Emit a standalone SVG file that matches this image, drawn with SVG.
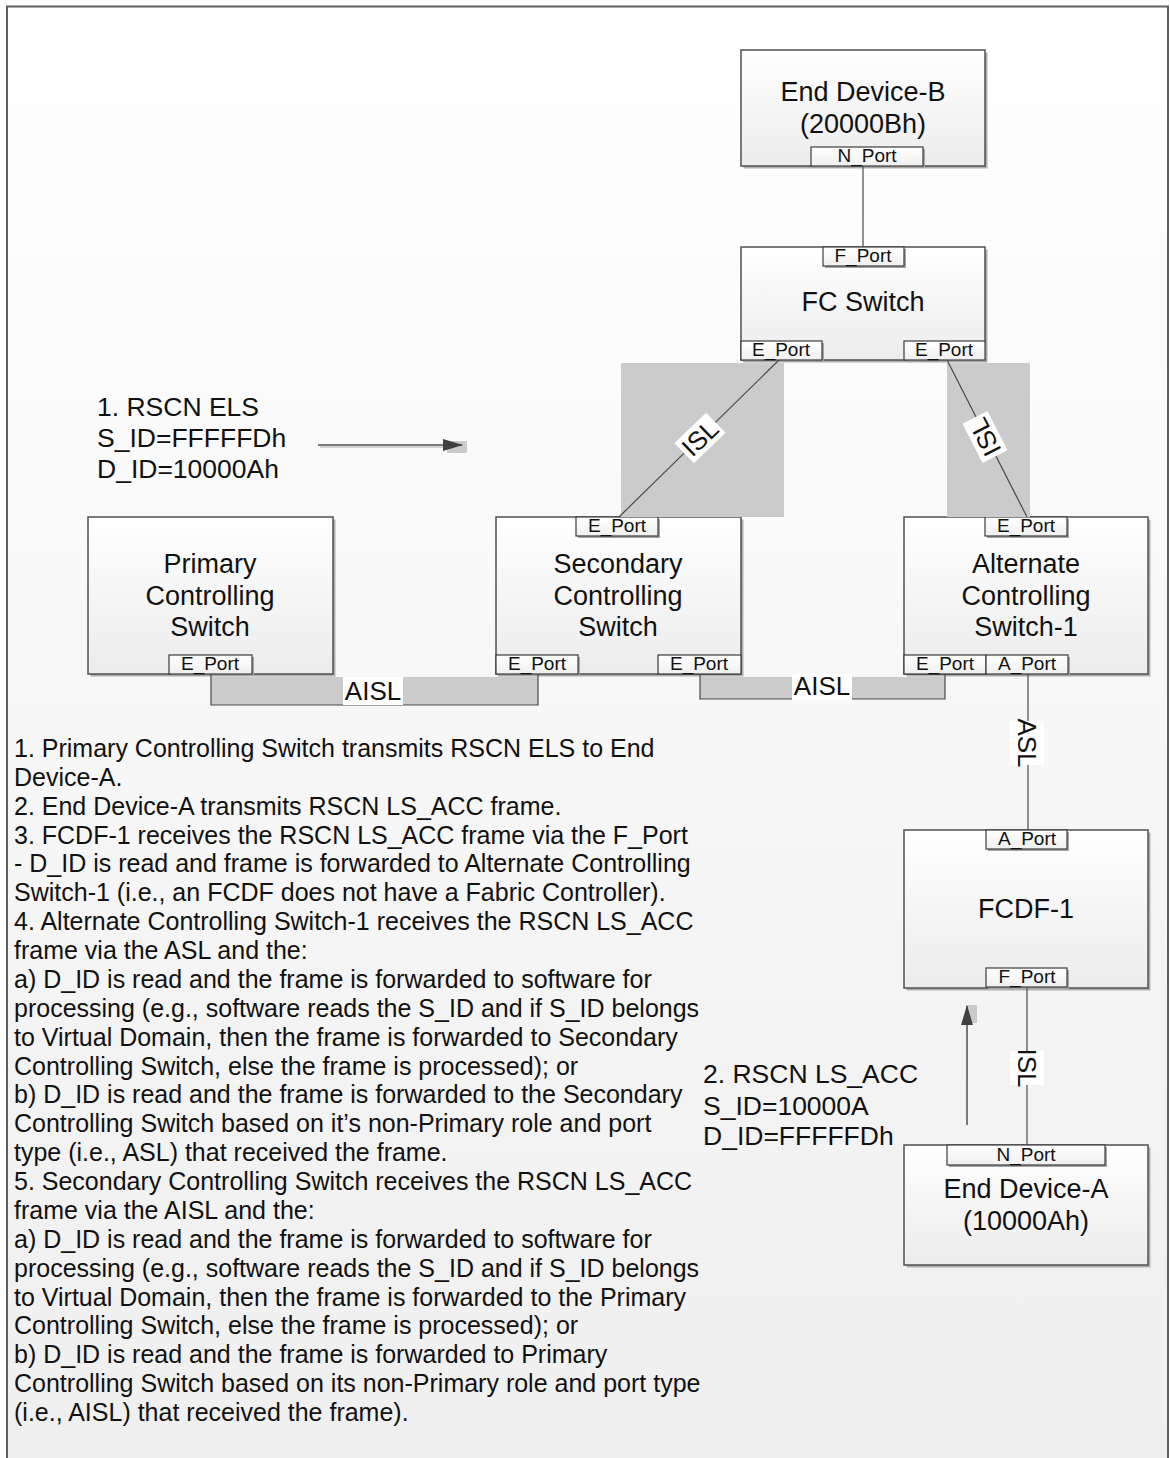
<svg xmlns="http://www.w3.org/2000/svg" width="1170" height="1458" viewBox="0 0 1170 1458">
  <defs>
    <linearGradient id="bgGrad" x1="0" y1="0" x2="0" y2="1">
      <stop offset="0" stop-color="#ffffff"/>
      <stop offset="1" stop-color="#efefef"/>
    </linearGradient>
    <linearGradient id="boxGrad" x1="0" y1="0" x2="0" y2="1">
      <stop offset="0" stop-color="#ffffff"/>
      <stop offset="1" stop-color="#ececec"/>
    </linearGradient>
    <linearGradient id="portGrad" x1="0" y1="0" x2="0" y2="1">
      <stop offset="0" stop-color="#ffffff"/>
      <stop offset="1" stop-color="#efefef"/>
    </linearGradient>
    <marker id="arrowHead" viewBox="0 0 20 12" refX="19" refY="6" markerWidth="20" markerHeight="12" markerUnits="userSpaceOnUse" orient="auto">
      <path d="M0,0 L20,6 L0,12 Z" fill="#404040"/>
    </marker>
  </defs>
  <style>
    .frame { fill: url(#bgGrad); stroke: #5f5f5f; stroke-width: 2; }
    .body { fill: url(#boxGrad); stroke: #505050; stroke-width: 1.5; }
    .shadow { fill: #b0b0b0; }
    .port { fill: url(#portGrad); stroke: #3c3c3c; stroke-width: 1.2; }
    .pshadow { fill: #a4a4a4; }
    .label { font-family: "Liberation Sans", Arial, sans-serif; font-size: 27px; fill: #111; text-anchor: middle; }
    .plabel { font-family: "Liberation Sans", Arial, sans-serif; font-size: 19px; fill: #111; text-anchor: middle; }
    .note { font-family: "Liberation Sans", Arial, sans-serif; font-size: 26.5px; fill: #111; }
    .body-text { font-family: "Liberation Sans", Arial, sans-serif; font-size: 25px; fill: #111; }
    .band { fill: #cbcbcb; }
    .link { fill: none; stroke: #4a4a4a; stroke-width: 1.2; }
    .tag { fill: #ffffff; }
    .ltext { font-family: "Liberation Sans", Arial, sans-serif; font-size: 26px; fill: #111; text-anchor: middle; }
    .arrow { fill: none; stroke: #505050; stroke-width: 1.5; }
    .arrowshade { fill: none; stroke: #c8c8c8; stroke-width: 1.5; }
  </style>

  <!-- page frame -->
  <rect class="frame" x="7" y="6.5" width="1161" height="1470"/>

  <!-- End Device-B -->
  <g id="end-device-b">
    <rect class="shadow" x="743.5" y="52.5" width="244" height="116"/>
    <rect class="body" x="741" y="50" width="244" height="116"/>
    <text class="label" x="863" y="101">End Device-B</text>
    <text class="label" x="863" y="133">(20000Bh)</text>
    <rect class="pshadow" x="813" y="149" width="112" height="19"/>
    <rect class="port" x="811" y="147" width="112" height="19"/>
    <text class="plabel" x="867" y="161.5">N_Port</text>
  </g>

  <!-- FC Switch -->
  <g id="fc-switch">
    <rect class="shadow" x="743.5" y="249.5" width="244" height="113"/>
    <rect class="body" x="741" y="247" width="244" height="113"/>
    <rect class="pshadow" x="825" y="249" width="81" height="19"/>
    <rect class="port" x="823" y="247" width="81" height="19"/>
    <text class="plabel" x="863" y="261.5">F_Port</text>
    <text class="label" x="863" y="311">FC Switch</text>
    <rect class="pshadow" x="743" y="343" width="81" height="19"/>
    <rect class="port" x="741" y="341" width="81" height="19"/>
    <text class="plabel" x="781" y="355.5">E_Port</text>
    <rect class="pshadow" x="906" y="343" width="81" height="19"/>
    <rect class="port" x="904" y="341" width="81" height="19"/>
    <text class="plabel" x="944" y="355.5">E_Port</text>
  </g>

  <!-- Primary Controlling Switch -->
  <g id="primary-controlling-switch">
    <rect class="shadow" x="90.5" y="519.5" width="245" height="157"/>
    <rect class="body" x="88" y="517" width="245" height="157"/>
    <text class="label" x="210" y="573">Primary</text>
    <text class="label" x="210" y="605">Controlling</text>
    <text class="label" x="210" y="636">Switch</text>
    <rect class="pshadow" x="171" y="657" width="83" height="19"/>
    <rect class="port" x="169" y="655" width="83" height="19"/>
    <text class="plabel" x="210" y="669.5">E_Port</text>
  </g>

  <!-- Secondary Controlling Switch -->
  <g id="secondary-controlling-switch">
    <rect class="shadow" x="498.5" y="519.5" width="245" height="157"/>
    <rect class="body" x="496" y="517" width="245" height="157"/>
    <text class="label" x="618" y="573">Secondary</text>
    <text class="label" x="618" y="605">Controlling</text>
    <text class="label" x="618" y="636">Switch</text>
    <rect class="pshadow" x="578" y="519" width="82" height="19"/>
    <rect class="port" x="576" y="517" width="82" height="19"/>
    <text class="plabel" x="617" y="531.5">E_Port</text>
    <rect class="pshadow" x="498" y="657" width="82" height="19"/>
    <rect class="port" x="496" y="655" width="82" height="19"/>
    <text class="plabel" x="537" y="669.5">E_Port</text>
    <rect class="port" x="658" y="655" width="83" height="19"/>
    <text class="plabel" x="699" y="669.5">E_Port</text>
  </g>

  <!-- Alternate Controlling Switch-1 -->
  <g id="alternate-controlling-switch-1">
    <rect class="shadow" x="906.5" y="519.5" width="244" height="157"/>
    <rect class="body" x="904" y="517" width="244" height="157"/>
    <text class="label" x="1026" y="573">Alternate</text>
    <text class="label" x="1026" y="605">Controlling</text>
    <text class="label" x="1026" y="636">Switch-1</text>
    <rect class="pshadow" x="987" y="519" width="82" height="19"/>
    <rect class="port" x="985" y="517" width="82" height="19"/>
    <text class="plabel" x="1026" y="531.5">E_Port</text>
    <rect class="port" x="904" y="655" width="82" height="19"/>
    <text class="plabel" x="945" y="669.5">E_Port</text>
    <rect class="pshadow" x="988" y="657" width="82" height="19"/>
    <rect class="port" x="986" y="655" width="82" height="19"/>
    <text class="plabel" x="1027" y="669.5">A_Port</text>
  </g>

  <!-- FCDF-1 -->
  <g id="fcdf-1">
    <rect class="shadow" x="906.5" y="832.5" width="244" height="158"/>
    <rect class="body" x="904" y="830" width="244" height="158"/>
    <rect class="pshadow" x="988" y="832" width="81" height="19"/>
    <rect class="port" x="986" y="830" width="81" height="19"/>
    <text class="plabel" x="1027" y="844.5">A_Port</text>
    <text class="label" x="1026" y="918">FCDF-1</text>
    <rect class="pshadow" x="988" y="970" width="81" height="19"/>
    <rect class="port" x="986" y="968" width="81" height="19"/>
    <text class="plabel" x="1027" y="982.5">F_Port</text>
  </g>

  <!-- End Device-A -->
  <g id="end-device-a">
    <rect class="shadow" x="906.5" y="1147.5" width="244" height="120"/>
    <rect class="body" x="904" y="1145" width="244" height="120"/>
    <rect class="pshadow" x="949" y="1147" width="158" height="20"/>
    <rect class="port" x="947" y="1145" width="158" height="20"/>
    <text class="plabel" x="1026" y="1160.5">N_Port</text>
    <text class="label" x="1026" y="1198">End Device-A</text>
    <text class="label" x="1026" y="1230">(10000Ah)</text>
  </g>

  <!-- links between ports -->
  <g id="connectors">
    <!-- N_Port to F_Port -->
    <line class="link" x1="863" y1="166" x2="863" y2="247"/>

    <!-- ISL, FC Switch to Secondary -->
    <rect class="band" x="621" y="363" width="163" height="154"/>
    <line class="link" x1="779" y1="360" x2="619" y2="517"/>
    <g transform="translate(700,438) rotate(-44)">
      <rect class="tag" x="-22" y="-14" width="44" height="28"/>
      <text class="ltext" x="0" y="9">ISL</text>
    </g>

    <!-- ISL, FC Switch to Alternate -->
    <rect class="band" x="947" y="363" width="83" height="154"/>
    <line class="link" x1="947" y1="360" x2="1027" y2="517"/>
    <g transform="translate(985,437) rotate(-117)">
      <rect class="tag" x="-22" y="-14" width="44" height="28"/>
      <text class="ltext" x="0" y="9">ISL</text>
    </g>

    <!-- AISL, Primary to Secondary -->
    <rect class="band" x="211" y="677" width="327" height="28"/>
    <path class="link" d="M211,674 V705 H538 V674"/>
    <rect class="tag" x="343" y="677" width="60" height="28"/>
    <text class="ltext" x="373" y="700">AISL</text>

    <!-- AISL, Secondary to Alternate -->
    <rect class="band" x="700" y="677" width="245" height="22"/>
    <path class="link" d="M700,674 V699 H945 V674"/>
    <rect class="tag" x="792" y="674" width="60" height="26"/>
    <text class="ltext" x="822" y="695">AISL</text>

    <!-- ASL, Alternate to FCDF-1 -->
    <line class="link" x1="1028" y1="674" x2="1028" y2="830"/>
    <g transform="translate(1027,743) rotate(90)">
      <rect class="tag" x="-22" y="-17" width="44" height="34"/>
      <text class="ltext" x="0" y="9">ASL</text>
    </g>

    <!-- ISL, FCDF-1 to End Device-A -->
    <line class="link" x1="1027" y1="988" x2="1027" y2="1145"/>
    <g transform="translate(1027,1068) rotate(90)">
      <rect class="tag" x="-17" y="-17" width="34" height="34"/>
      <text class="ltext" x="0" y="9">ISL</text>
    </g>
  </g>

  <!-- frame flow annotations -->
  <g id="rscn-els">
    <text class="note" x="97" y="416">1. RSCN ELS</text>
    <text class="note" x="97" y="447">S_ID=FFFFFDh</text>
    <text class="note" x="97" y="478">D_ID=10000Ah</text>
    <rect class="band" x="447" y="441" width="20" height="12"/>
    <line class="arrowshade" x1="320" y1="447" x2="445" y2="447"/>
    <line class="arrow" x1="318" y1="445" x2="462" y2="445" marker-end="url(#arrowHead)"/>
  </g>

  <g id="rscn-ls-acc">
    <text class="note" x="703" y="1083">2. RSCN LS_ACC</text>
    <text class="note" x="703" y="1115">S_ID=10000A</text>
    <text class="note" x="703" y="1145">D_ID=FFFFFDh</text>
    <rect class="band" x="967" y="1005" width="10" height="18"/>
    <line class="arrow" x1="967" y1="1125" x2="967" y2="1006" marker-end="url(#arrowHead)"/>
  </g>

  <!-- step description -->
  <text class="body-text" x="14" y="757">
    <tspan x="14" y="757">1. Primary Controlling Switch transmits RSCN ELS to End</tspan>
    <tspan x="14" dy="28.87">Device-A.</tspan>
    <tspan x="14" dy="28.87">2. End Device-A transmits RSCN LS_ACC frame.</tspan>
    <tspan x="14" dy="28.87">3. FCDF-1 receives the RSCN LS_ACC frame via the F_Port</tspan>
    <tspan x="14" dy="28.87">- D_ID is read and frame is forwarded to Alternate Controlling</tspan>
    <tspan x="14" dy="28.87">Switch-1 (i.e., an FCDF does not have a Fabric Controller).</tspan>
    <tspan x="14" dy="28.87">4. Alternate Controlling Switch-1 receives the RSCN LS_ACC</tspan>
    <tspan x="14" dy="28.87">frame via the ASL and the:</tspan>
    <tspan x="14" dy="28.87">a) D_ID is read and the frame is forwarded to software for</tspan>
    <tspan x="14" dy="28.87">processing (e.g., software reads the S_ID and if S_ID belongs</tspan>
    <tspan x="14" dy="28.87">to Virtual Domain, then the frame is forwarded to Secondary</tspan>
    <tspan x="14" dy="28.87">Controlling Switch, else the frame is processed); or</tspan>
    <tspan x="14" dy="28.87">b) D_ID is read and the frame is forwarded to the Secondary</tspan>
    <tspan x="14" dy="28.87">Controlling Switch based on it’s non-Primary role and port</tspan>
    <tspan x="14" dy="28.87">type (i.e., ASL) that received the frame.</tspan>
    <tspan x="14" dy="28.87">5. Secondary Controlling Switch receives the RSCN LS_ACC</tspan>
    <tspan x="14" dy="28.87">frame via the AISL and the:</tspan>
    <tspan x="14" dy="28.87">a) D_ID is read and the frame is forwarded to software for</tspan>
    <tspan x="14" dy="28.87">processing (e.g., software reads the S_ID and if S_ID belongs</tspan>
    <tspan x="14" dy="28.87">to Virtual Domain, then the frame is forwarded to the Primary</tspan>
    <tspan x="14" dy="28.87">Controlling Switch, else the frame is processed); or</tspan>
    <tspan x="14" dy="28.87">b) D_ID is read and the frame is forwarded to Primary</tspan>
    <tspan x="14" dy="28.87">Controlling Switch based on its non-Primary role and port type</tspan>
    <tspan x="14" dy="28.87">(i.e., AISL) that received the frame).</tspan>
  </text>
</svg>
